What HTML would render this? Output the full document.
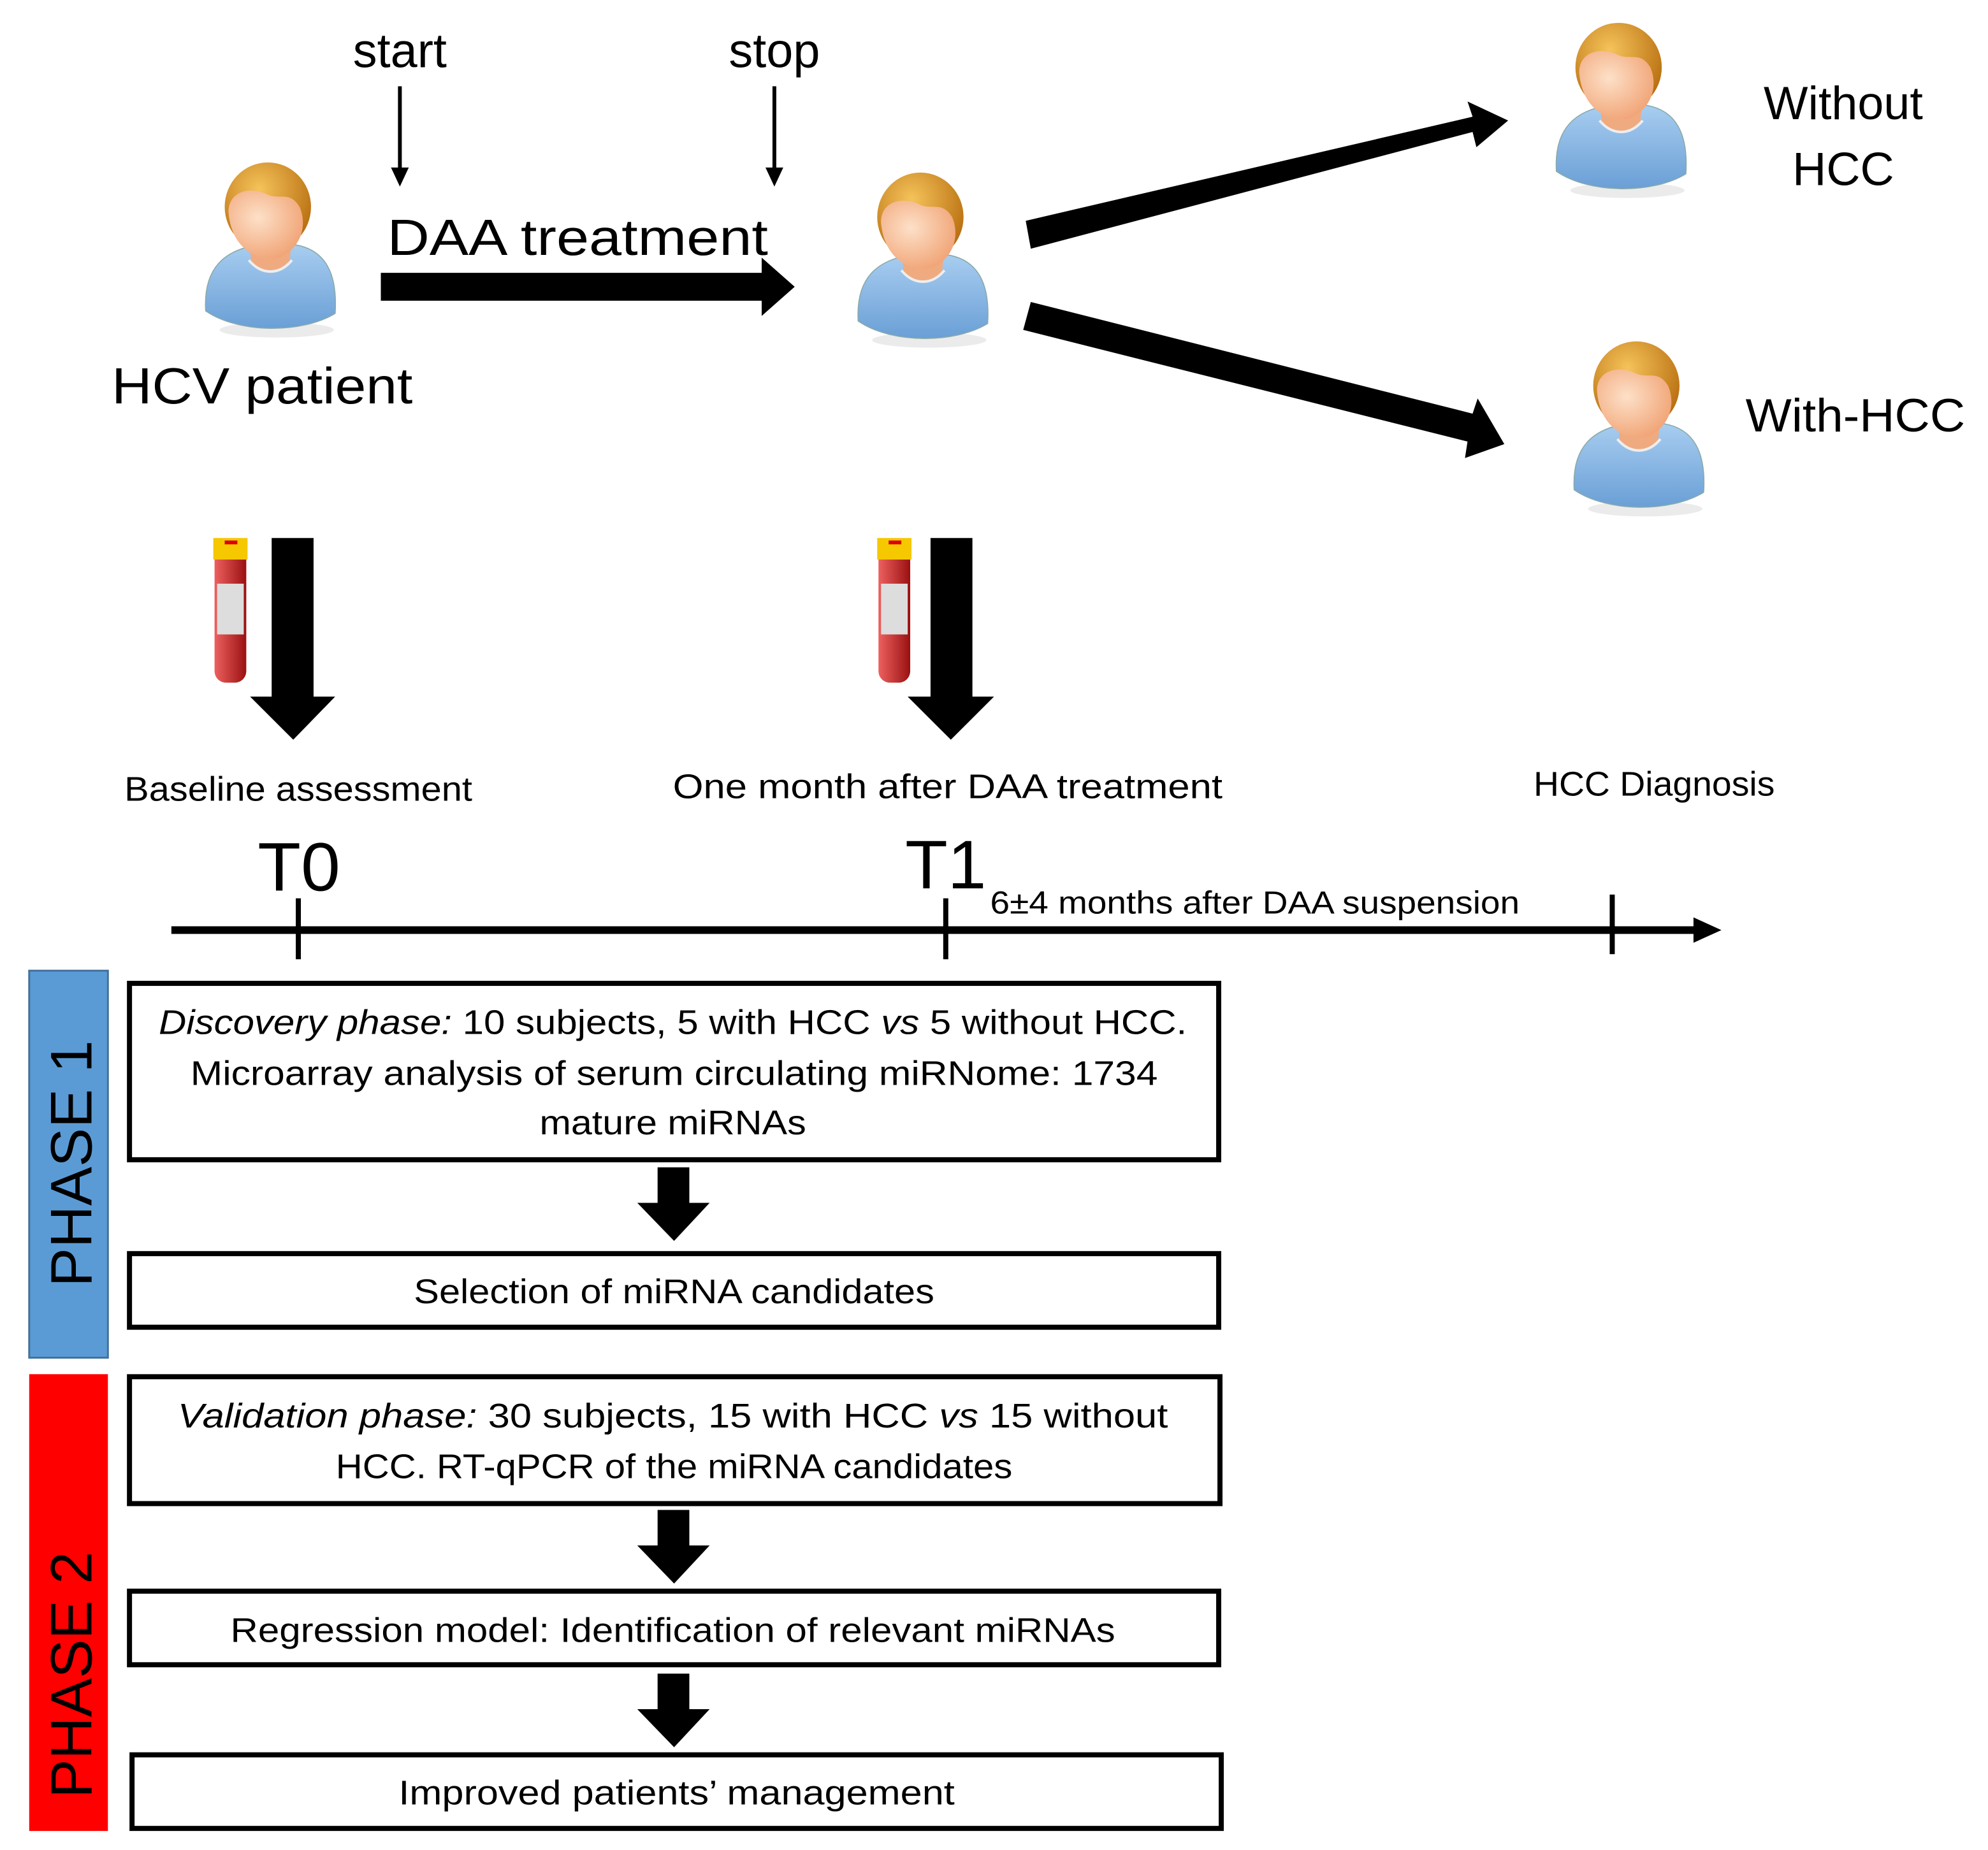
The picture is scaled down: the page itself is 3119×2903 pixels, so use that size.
<!DOCTYPE html>
<html><head><meta charset="utf-8"><style>
html,body{margin:0;padding:0;background:#fff;}
svg{display:block;}
text{font-family:"Liberation Sans",sans-serif;fill:#000;}
</style></head><body>
<svg width="3119" height="2903" viewBox="0 0 1566 1458" preserveAspectRatio="none" xmlns="http://www.w3.org/2000/svg">
<defs>
<radialGradient id="hair" cx="0.4" cy="0.3" r="0.7"><stop offset="0" stop-color="#f5c35a"/><stop offset="1" stop-color="#b86e10"/></radialGradient>
<radialGradient id="skin" cx="0.4" cy="0.4" r="0.7"><stop offset="0" stop-color="#fde0c8"/><stop offset="1" stop-color="#f0a070"/></radialGradient>
<linearGradient id="shirt" x1="0" y1="0" x2="0" y2="1"><stop offset="0" stop-color="#a8cdf0"/><stop offset="1" stop-color="#6a9fd6"/></linearGradient>
<linearGradient id="tube" x1="0" y1="0" x2="1" y2="0"><stop offset="0" stop-color="#ee6060"/><stop offset="1" stop-color="#9a1010"/></linearGradient>
<g id="person">
<ellipse cx="60" cy="135" rx="45" ry="6" fill="#ddd" opacity="0.6"/>
<path d="M4,120 C2,85 20,72 45,68 L75,68 C98,72 108,90 106,122 C80,138 30,138 4,120 Z" fill="url(#shirt)" stroke="#8aa" stroke-width="0.8"/>
<path d="M38,62 L72,62 L70,82 C60,92 50,92 40,82 Z" fill="#f0aa80"/>
<path d="M38,80 C48,92 62,92 72,80" fill="none" stroke="#eee" stroke-width="2"/>
<ellipse cx="53" cy="38" rx="34" ry="35" fill="url(#hair)"/>
<path d="M22,42 C22,25 40,22 52,28 C62,33 70,25 78,38 C84,52 80,70 62,78 C44,82 24,70 22,42 Z" fill="url(#skin)"/>
</g>
<g id="tubeg">
<rect x="0" y="4" width="25" height="110" rx="9" fill="url(#tube)"/>
<rect x="2" y="36" width="21" height="40" fill="#ddd"/>
<rect x="-1" y="0" width="27" height="17" fill="#f5c800"/>
<rect x="8" y="2" width="10" height="3" fill="#d00"/>
</g>
</defs>

<text x="315" y="53" font-size="38" text-anchor="middle">start</text>
<text x="610" y="53" font-size="38" text-anchor="middle">stop</text>
<line x1="315" y1="68" x2="315" y2="135" stroke="#000" stroke-width="3"/>
<polygon points="308,132 322,132 315,147" fill="#000"/>
<line x1="610" y1="68" x2="610" y2="135" stroke="#000" stroke-width="3"/>
<polygon points="603,132 617,132 610,147" fill="#000"/>

<use href="#person" x="158" y="125"/>
<use href="#person" x="672" y="133"/>
<use href="#person" x="1222" y="15"/>
<use href="#person" x="1236" y="266"/>

<text x="305" y="201" font-size="40" textLength="300" lengthAdjust="spacingAndGlyphs">DAA treatment</text>
<polygon points="300,215 600,215 600,203 626,226 600,249 600,237 300,237" fill="#000"/>
<text x="88" y="318" font-size="40" textLength="237" lengthAdjust="spacingAndGlyphs">HCV patient</text>

<polygon points="808,174 1160,92 1156,80 1188,95 1163,116 1160,104 812,196" fill="#000"/>
<polygon points="812,238 1160,326 1164,314 1185,350 1154,361 1156,348 806,260" fill="#000"/>

<text x="1452" y="94" font-size="37" text-anchor="middle">Without</text>
<text x="1452" y="146" font-size="37" text-anchor="middle">HCC</text>
<text x="1375" y="340" font-size="37" textLength="173" lengthAdjust="spacingAndGlyphs">With-HCC</text>

<use href="#tubeg" x="169" y="424"/>
<use href="#tubeg" x="692" y="424"/>
<polygon points="214,424 247,424 247,549 264,549 231,583 197,549 214,549" fill="#000"/>
<polygon points="733,424 766,424 766,549 783,549 749,583 715,549 733,549" fill="#000"/>

<text x="98" y="631" font-size="27" textLength="274" lengthAdjust="spacingAndGlyphs">Baseline assessment</text>
<text x="530" y="629" font-size="27" textLength="433" lengthAdjust="spacingAndGlyphs">One month after DAA treatment</text>
<text x="1208" y="627" font-size="27" textLength="190" lengthAdjust="spacingAndGlyphs">HCC Diagnosis</text>

<text x="203" y="702" font-size="54" textLength="65" lengthAdjust="spacingAndGlyphs">T0</text>
<text x="713" y="700" font-size="54" textLength="64" lengthAdjust="spacingAndGlyphs">T1</text>
<text x="780" y="720" font-size="25" textLength="417" lengthAdjust="spacingAndGlyphs">6±4 months after DAA suspension</text>

<line x1="135" y1="733" x2="1340" y2="733" stroke="#000" stroke-width="6"/>
<polygon points="1334,723 1356,733 1334,743" fill="#000"/>
<line x1="235" y1="708" x2="235" y2="756" stroke="#000" stroke-width="4"/>
<line x1="745" y1="708" x2="745" y2="756" stroke="#000" stroke-width="4"/>
<line x1="1270" y1="705" x2="1270" y2="752" stroke="#000" stroke-width="4"/>

<rect x="23" y="765" width="62" height="305" fill="#5b9bd5" stroke="#41719c" stroke-width="1.5"/>
<text transform="translate(72,917) rotate(-90)" font-size="46" text-anchor="middle">PHASE 1</text>
<rect x="23" y="1083" width="62" height="360" fill="#ff0000"/>
<text transform="translate(72,1320) rotate(-90)" font-size="46" text-anchor="middle">PHASE 2</text>

<g fill="#fff" stroke="#000" stroke-width="4">
<rect x="102" y="775" width="858" height="139"/>
<rect x="102" y="988" width="858" height="58"/>
<rect x="102" y="1085" width="859" height="100"/>
<rect x="102" y="1254" width="858" height="58"/>
<rect x="104" y="1383" width="858" height="58"/>
</g>

<text x="530" y="815" font-size="27" text-anchor="middle" textLength="810" lengthAdjust="spacingAndGlyphs"><tspan font-style="italic">Discovery phase:</tspan>  10 subjects,  5 with HCC <tspan font-style="italic">vs</tspan>  5 without HCC.</text>
<text x="531" y="855" font-size="27" text-anchor="middle" textLength="762" lengthAdjust="spacingAndGlyphs">Microarray analysis  of serum circulating miRNome: 1734</text>
<text x="530" y="894" font-size="27" text-anchor="middle" textLength="210" lengthAdjust="spacingAndGlyphs">mature miRNAs</text>
<text x="531" y="1027" font-size="27" text-anchor="middle" textLength="410" lengthAdjust="spacingAndGlyphs">Selection of miRNA candidates</text>
<text x="530" y="1125" font-size="27" text-anchor="middle" textLength="780" lengthAdjust="spacingAndGlyphs"><tspan font-style="italic">Validation phase:</tspan>  30 subjects,  15 with HCC <tspan font-style="italic">vs</tspan>  15 without</text>
<text x="531" y="1165" font-size="27" text-anchor="middle" textLength="533" lengthAdjust="spacingAndGlyphs">HCC.  RT-qPCR of the miRNA candidates</text>
<text x="530" y="1294" font-size="27" text-anchor="middle" textLength="697" lengthAdjust="spacingAndGlyphs">Regression model: Identification of relevant miRNAs</text>
<text x="533" y="1422" font-size="27" text-anchor="middle" textLength="438" lengthAdjust="spacingAndGlyphs">Improved patients’ management</text>

<polygon points="518,920 543,920 543,948 559,948 531,978 502,948 518,948" fill="#000"/>
<polygon points="518,1190 543,1190 543,1218 559,1218 531,1248 502,1218 518,1218" fill="#000"/>
<polygon points="518,1319 543,1319 543,1347 559,1347 531,1377 502,1347 518,1347" fill="#000"/>
</svg>
</body></html>
